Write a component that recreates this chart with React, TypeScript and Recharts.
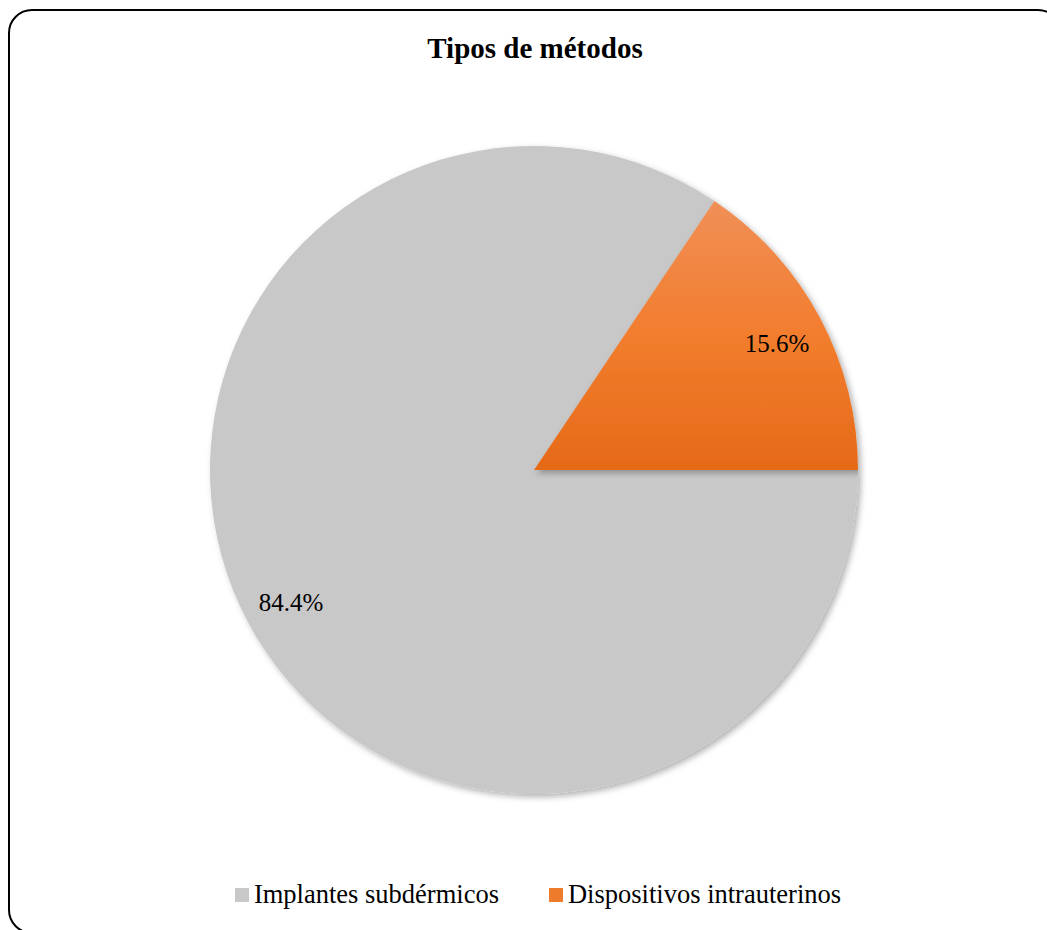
import { PieChart, Pie, Cell, Legend } from "recharts";

const categories = ["Implantes subdérmicos", "Dispositivos intrauterinos"];
const shares = [84.4, 15.6];
const sliceFills = ["#C8C8C8", "url(#orangeGrad)"];
const legendFills = ["#C8C8C8", "#EE7A2C"];

const data = categories.map((name, i) => ({ name, value: shares[i] }));

const FONT = "'Liberation Serif', 'Times New Roman', serif";
const RAD = Math.PI / 180;

// start where the orange slice ends so that orange sits between 0° and ~56°
const startAngle = (shares[1] / 100) * 360;

function renderLabel(props: any) {
  const { cx, cy, midAngle, outerRadius, value } = props;
  const r = outerRadius * 0.85;
  const x = cx + r * Math.cos(-midAngle * RAD);
  const y = cy + r * Math.sin(-midAngle * RAD);
  return (
    <text
      x={x}
      y={y + 3}
      textAnchor="middle"
      dominantBaseline="central"
      fill="#000"
      fontSize={25}
      fontFamily={FONT}
    >
      {value.toFixed(1)}%
    </text>
  );
}

function LegendContent() {
  return (
    <div
      style={{
        display: "flex",
        justifyContent: "center",
        alignItems: "center",
        fontFamily: FONT,
        fontSize: 26.5,
        color: "#000",
      }}
    >
      {categories.map((c, i) => (
        <div
          key={c}
          style={{ display: "flex", alignItems: "center", marginRight: i === 0 ? 50 : 0 }}
        >
          <span
            style={{
              display: "inline-block",
              width: 14,
              height: 14,
              background: legendFills[i],
              marginRight: 5,
            }}
          />
          <span>{c}</span>
        </div>
      ))}
    </div>
  );
}

export default function App() {
  return (
    <div
      style={{
        position: "absolute",
        left: 0,
        top: 0,
        width: 1047,
        height: 930,
        overflow: "hidden",
        background: "#fff",
      }}
    >
      <div
        style={{
          position: "absolute",
          left: 8,
          top: 9,
          width: 1050,
          height: 921,
          border: "2px solid #000",
          borderRadius: 24,
        }}
      />
      <div
        style={{
          position: "absolute",
          left: 0,
          top: 29,
          width: 1070,
          textAlign: "center",
          fontFamily: FONT,
          fontWeight: "bold",
          fontSize: 29,
          lineHeight: "38px",
        }}
      >
        Tipos de métodos
      </div>
      <div style={{ position: "absolute", left: 0, top: 0 }}>
        <PieChart width={1047} height={930} margin={{ top: 0, right: 0, bottom: 0, left: 0 }}>
          <defs>
            <linearGradient id="orangeGrad" x1="0" y1="0" x2="0" y2="1">
              <stop offset="0%" stopColor="#F08F57" />
              <stop offset="50%" stopColor="#F27D2E" />
              <stop offset="100%" stopColor="#E56A18" />
            </linearGradient>
            <filter id="pieShadow" x="-10%" y="-10%" width="120%" height="120%">
              <feDropShadow dx="3" dy="3" stdDeviation="3" floodColor="#000" floodOpacity="0.3" />
            </filter>
          </defs>
          <Pie
            data={data}
            dataKey="value"
            nameKey="name"
            cx={534}
            cy={470}
            outerRadius={324}
            startAngle={startAngle}
            endAngle={startAngle + 360}
            stroke="none"
            label={renderLabel}
            labelLine={false}
            isAnimationActive={false}
            style={{ filter: "url(#pieShadow)" }}
          >
            {data.map((d, i) => (
              <Cell key={d.name} fill={sliceFills[i]} />
            ))}
          </Pie>
          <Legend
            content={<LegendContent />}
            wrapperStyle={{ position: "absolute", left: 0, top: 879, width: 1076 }}
          />
        </PieChart>
      </div>
    </div>
  );
}
